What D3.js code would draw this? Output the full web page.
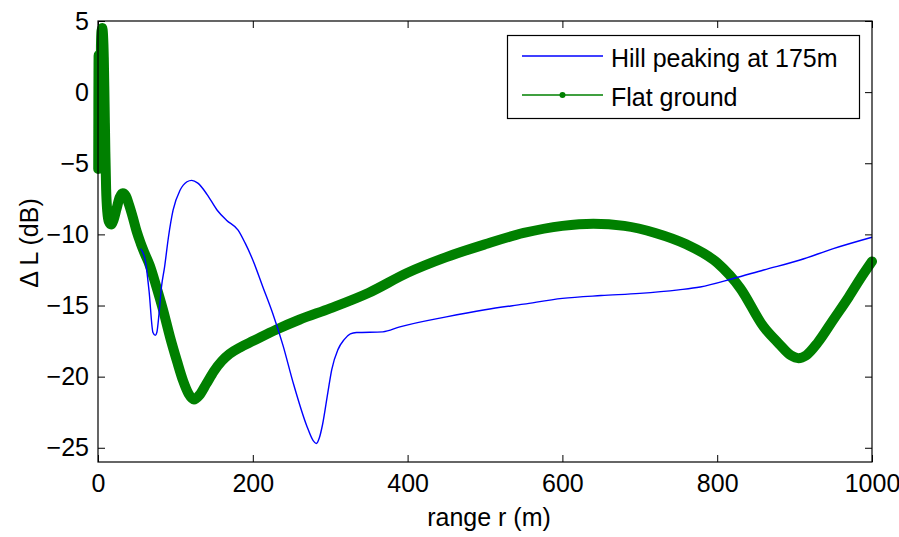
<!DOCTYPE html>
<html>
<head>
<meta charset="utf-8">
<script src="https://cdn.jsdelivr.net/npm/d3@7"></script>
<style>
  html, body { margin: 0; padding: 0; background: #fff; }
  svg { display: block; }
  text { font-family: "Liberation Sans", Arial, sans-serif; fill: #000; }
</style>
</head>
<body>
<svg id="chart" width="899" height="537"></svg>
<script>
// Range (m) and level difference (dB) for the flat-ground case
const flatRange = [0.3, 0.8, 1.3, 1.8, 2.3, 2.8, 3.3, 3.8, 4.5, 5.5, 6.5, 7.5, 8.5, 9.5, 10.5, 12, 14, 17, 20, 24, 28, 32, 36, 40, 45, 50, 55, 60, 67, 75, 84, 93, 102, 110, 117, 124, 131, 140, 150, 160, 170, 185, 200, 230, 260, 300, 350, 400, 450, 500, 550, 600, 640, 680, 720, 760, 800, 830, 860, 880, 895, 905, 915, 930, 950, 970, 985, 1000];
const flatLevel = [-5.4, 2.6, -4.6, 1.8, -3.2, 0.8, -1.8, 3.2, 4.3, 4.5, 4.0, 2.4, -0.8, -4.2, -6.8, -8.4, -9.1, -9.3, -9.0, -8.2, -7.4, -7.1, -7.3, -7.9, -8.8, -9.8, -10.6, -11.3, -12.2, -13.6, -15.3, -17.2, -18.9, -20.3, -21.2, -21.6, -21.3, -20.5, -19.6, -18.9, -18.4, -17.9, -17.5, -16.7, -16.0, -15.2, -14.1, -12.7, -11.6, -10.7, -9.9, -9.4, -9.25, -9.4, -9.9, -10.7, -12.0, -13.8, -16.5, -17.7, -18.5, -18.7, -18.5, -17.6, -16.0, -14.4, -13.1, -11.9];

// Range (m) and level difference (dB) with a hill peaking at 175 m
const hillRange = [55, 61, 66, 71, 74, 76, 79, 82, 86, 91, 97, 106, 115, 121, 129, 141, 154, 166, 181, 190, 200, 213, 226, 239, 252, 270, 278, 282, 286, 290, 297, 302, 310, 318, 326, 334, 368, 390, 450, 500, 550, 600, 650, 700, 750, 778, 821, 860, 907, 950, 1000];
const hillLevel = [-11.0, -11.8, -14.0, -16.9, -17.1, -16.9, -15.5, -13.7, -12.3, -10.2, -8.3, -6.9, -6.3, -6.2, -6.4, -7.2, -8.3, -9.0, -9.7, -10.6, -11.8, -13.7, -15.6, -17.8, -20.4, -23.5, -24.5, -24.7, -24.3, -23.4, -21.1, -19.5, -18.1, -17.4, -17.0, -16.9, -16.85, -16.5, -15.8, -15.3, -14.9, -14.5, -14.3, -14.15, -13.9, -13.7, -13.1, -12.5, -11.8, -11.0, -10.2];

const xTicks = [0, 200, 400, 600, 800, 1000];
const yTicks = [-25, -20, -15, -10, -5, 0, 5];
const seriesNames = ["Hill peaking at 175m", "Flat ground"];

const flatData = flatRange.map((r, i) => ({ r, v: flatLevel[i] }));
const hillData = hillRange.map((r, i) => ({ r, v: hillLevel[i] }));

const svg = d3.select("#chart");
const plotL = 98, plotR = 872, plotT = 21, plotB = 462;

const x = d3.scaleLinear().domain([0, 1000]).range([plotL, plotR]);
const y = d3.scaleLinear().domain([-26, 5]).range([plotB, plotT]);

const fontSize = 25;
const tickLen = 7;

// Axes box with inward ticks on all four sides
const axisG = svg.append("g");

axisG.append("g")
  .attr("transform", `translate(0,${plotB})`)
  .call(d3.axisBottom(x).tickValues(xTicks).tickSize(-tickLen).tickPadding(12).tickFormat(d3.format("d")))
  .call(g => g.select(".domain").remove());

axisG.append("g")
  .attr("transform", `translate(0,${plotT})`)
  .call(d3.axisTop(x).tickValues(xTicks).tickSize(-tickLen).tickFormat(""))
  .call(g => g.select(".domain").remove());

axisG.append("g")
  .attr("transform", `translate(${plotL},0)`)
  .call(d3.axisLeft(y).tickValues(yTicks).tickSize(-tickLen).tickPadding(9).tickFormat(d3.format("d")))
  .call(g => g.select(".domain").remove());

axisG.append("g")
  .attr("transform", `translate(${plotR},0)`)
  .call(d3.axisRight(y).tickValues(yTicks).tickSize(-tickLen).tickFormat(""))
  .call(g => g.select(".domain").remove());

axisG.selectAll(".tick line").attr("stroke", "#000").attr("stroke-width", 1);
axisG.selectAll(".tick text")
  .attr("font-size", fontSize)
  .attr("font-family", "Liberation Sans, Arial, sans-serif")
  .attr("fill", "#000");

// Curves
const line = d3.line().x(d => x(d.r)).y(d => y(d.v)).curve(d3.curveMonotoneX);

svg.append("path")
  .datum(flatData)
  .attr("d", line)
  .attr("fill", "none")
  .attr("stroke", "#008000")
  .attr("stroke-width", 10)
  .attr("stroke-linejoin", "round")
  .attr("stroke-linecap", "round");

svg.append("g")
  .selectAll("circle")
  .data(flatData)
  .join("circle")
  .attr("cx", d => x(d.r))
  .attr("cy", d => y(d.v))
  .attr("r", 3.5)
  .attr("fill", "#008000");

svg.append("path")
  .datum(hillData)
  .attr("d", line)
  .attr("fill", "none")
  .attr("stroke", "#0000ff")
  .attr("stroke-width", 1.4)
  .attr("stroke-linejoin", "round");

// Frame
svg.append("rect")
  .attr("x", plotL).attr("y", plotT)
  .attr("width", plotR - plotL).attr("height", plotB - plotT)
  .attr("fill", "none").attr("stroke", "#000").attr("stroke-width", 1.2);

// Axis titles
svg.append("text")
  .attr("x", (plotL + plotR) / 2 + 4)
  .attr("y", 526)
  .attr("text-anchor", "middle")
  .attr("font-size", fontSize)
  .text("range r (m)");

svg.append("text")
  .attr("transform", "translate(38,243) rotate(-90)")
  .attr("text-anchor", "middle")
  .attr("font-size", fontSize)
  .text("\u0394 L (dB)");

// Legend
const legend = svg.append("g");
legend.append("rect")
  .attr("x", 507.5).attr("y", 35.5)
  .attr("width", 352).attr("height", 83)
  .attr("fill", "#fff").attr("stroke", "#000").attr("stroke-width", 1.2);

const legendRows = [
  { name: seriesNames[0], color: "#0000ff", cy: 56, marker: false },
  { name: seriesNames[1], color: "#008000", cy: 95, marker: true }
];

legendRows.forEach(row => {
  legend.append("line")
    .attr("x1", 522).attr("x2", 603)
    .attr("y1", row.cy).attr("y2", row.cy)
    .attr("stroke", row.color).attr("stroke-width", 1.3);
  if (row.marker) {
    legend.append("circle")
      .attr("cx", 562.5).attr("cy", row.cy).attr("r", 3)
      .attr("fill", row.color);
  }
  legend.append("text")
    .attr("x", 611)
    .attr("y", row.cy + 11)
    .attr("font-size", fontSize)
    .text(row.name);
});
</script>
</body>
</html>
